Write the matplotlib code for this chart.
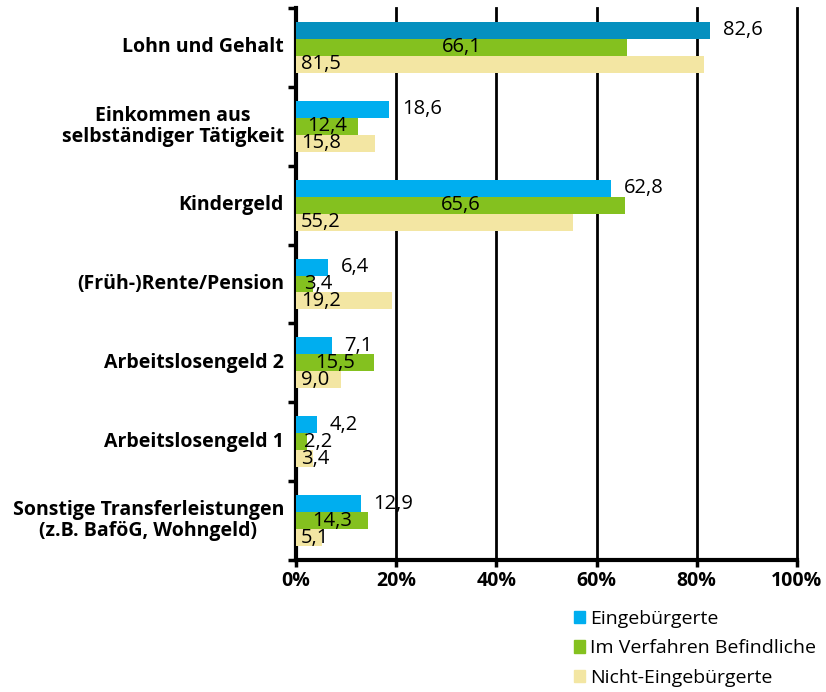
import matplotlib.pyplot as plt
from matplotlib.patches import Patch
import numpy as np

plt.rcParams['font.family'] = ['Open Sans', 'DejaVu Sans']

# data
categories = ['Lohn und Gehalt', 'Einkommen aus\nselbständiger Tätigkeit', 'Kindergeld',
              '(Früh-)Rente/Pension', 'Arbeitslosengeld 2', 'Arbeitslosengeld 1',
              'Sonstige Transferleistungen\n(z.B. BaföG, Wohngeld)']
eingeb = [82.6, 18.6, 62.8, 6.4, 7.1, 4.2, 12.9]
verfahren = [66.1, 12.4, 65.6, 3.4, 15.5, 2.2, 14.3]
nicht = [81.5, 15.8, 55.2, 19.2, 9.0, 3.4, 5.1]
series_names = ['Eingebürgerte', 'Im Verfahren Befindliche', 'Nicht-Eingebürgerte']

c_blue = '#00AEEF'
c_blue_dark = '#0590BF'
c_green = '#84C11F'
c_yellow = '#F3E6A3'

fig = plt.figure(figsize=(8.26, 6.92), dpi=100)
ax = fig.add_axes([296/826, 132/692, 501/826, 552/692])

y = np.arange(len(categories))
h = 0.215
blue_cols = [c_blue_dark] + [c_blue]*(len(categories)-1)
ax.barh(y - h, eingeb, height=h, color=blue_cols, zorder=3)
ax.barh(y, verfahren, height=h, color=c_green, zorder=3)
ax.barh(y + h, nicht, height=h, color=c_yellow, zorder=3)

def fmt(v):
    return ('%.1f' % v).replace('.', ',')

fs = 14.5
for i in range(len(categories)):
    ax.text(eingeb[i] + 2.6, y[i] - h, fmt(eingeb[i]), va='center', ha='left', fontsize=fs, zorder=4)
    ax.text(max(verfahren[i]/2, 4.5), y[i], fmt(verfahren[i]), va='center', ha='center', fontsize=fs, zorder=4)
    ax.text(1.0, y[i] + h, fmt(nicht[i]), va='center', ha='left', fontsize=fs, zorder=4)

ax.set_xlim(0, 100)
ax.set_ylim(len(categories) - 0.5, -0.5)
ax.set_xticks([0, 20, 40, 60, 80, 100])
ax.set_xticklabels(['0%', '20%', '40%', '60%', '80%', '100%'], fontweight='bold', fontsize=14)
ax.set_yticks(np.arange(-0.5, len(categories), 1.0))
ax.set_yticklabels([])
ax.tick_params(axis='y', length=6, width=2.5)
ax.tick_params(axis='x', length=5, width=2.5, pad=3)
for x in [20, 40, 60, 80, 100]:
    ax.axvline(x, color='black', lw=2, zorder=2, clip_on=False)
ax.spines['top'].set_visible(False)
ax.spines['right'].set_visible(False)
ax.spines['left'].set_linewidth(3)
ax.spines['bottom'].set_linewidth(3)

for i, c in enumerate(categories):
    ax.text(-2.4, y[i], c, ha='right', va='center', multialignment='center',
            fontweight='bold', fontsize=14, linespacing=1.05)

handles = [Patch(color=c_blue), Patch(color=c_green), Patch(color=c_yellow)]
fig.legend(handles, series_names, loc='upper left', bbox_to_anchor=(564/826, 1 - 600/692),
           frameon=False, fontsize=14, handlelength=0.6, handleheight=0.6,
           handletextpad=0.25, labelspacing=0.6, borderpad=0)

plt.savefig('out.png', dpi=100)
